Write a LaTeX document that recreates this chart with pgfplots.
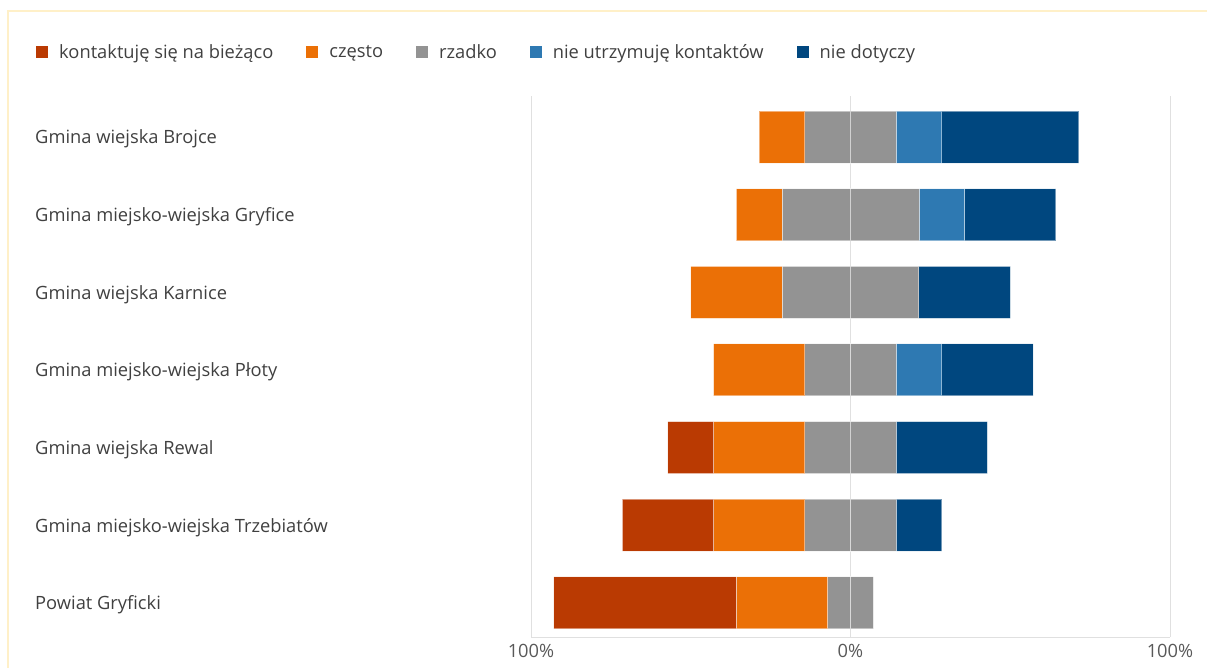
\documentclass[border=0pt]{standalone}
\usepackage{pgfplots}
\pgfplotsset{compat=1.18}
\usepackage{pgfplotstable}
\usepackage{fontspec}
\setmainfont{Open Sans}
\definecolor{ckont}{HTML}{BA3A02}
\definecolor{cczesto}{HTML}{EB7006}
\definecolor{crzadko}{HTML}{939393}
\definecolor{cnieutrz}{HTML}{2E79B2}
\definecolor{cniedot}{HTML}{00477F}
\definecolor{cgrid}{HTML}{E0E0E0}
\definecolor{ctext}{HTML}{404040}
\definecolor{ctick}{HTML}{595959}
\definecolor{cborder}{HTML}{FFF0C8}
\pgfplotstableread{
y offset kont czesto rzadkoL rzadkoR nieutrz niedot
0 -28.57 0     14.29 14.285 14.285 14.29 42.86
1 -35.71 0     14.29 21.43  21.43  14.29 28.57
2 -50.00 0     28.57 21.43  21.43  0     28.57
3 -42.86 0     28.57 14.285 14.285 14.29 28.57
4 -57.14 14.29 28.57 14.285 14.285 0     28.57
5 -71.43 28.57 28.57 14.285 14.285 0     14.29
6 -92.86 57.14 28.57 7.145  7.145  0     0
}\datatable
\begin{document}
\begin{tikzpicture}
\useasboundingbox (0pt,0pt) rectangle (1207pt,668pt);
\draw[color=cborder, line width=1.5pt] (8pt,-5pt) -- (8pt,657pt) -- (1215pt,657pt);
\begin{axis}[
  at={(531pt,31pt)}, anchor=south west,
  scale only axis, width=639pt, height=541pt,
  xbar stacked, stack negative=on previous, bar width=52pt,
  xmin=-100, xmax=100, ymin=-0.53, ymax=6.44, y dir=reverse,
  ytick={0,1,2,3,4,5,6},
  yticklabels={Gmina wiejska Brojce, Gmina miejsko-wiejska Gryfice, Gmina wiejska Karnice, Gmina miejsko-wiejska Płoty, Gmina wiejska Rewal, Gmina miejsko-wiejska Trzebiatów, Powiat Gryficki},
  yticklabel style={anchor=west, xshift=-496pt, yshift=-2pt, inner sep=0pt, font=\fontsize{18.3}{21}\selectfont, text=ctext},
  xtick={-100,0,100}, xticklabels={100\%,0\%,100\%},
  xticklabel style={font=\fontsize{18.3}{21}\selectfont, text=ctick, yshift=-4pt},
  major tick length=0pt,
  xmajorgrids, grid style={color=cgrid, line width=1pt},
  axis line style={draw=none},
  legend columns=5,
  legend cell align=left,
  legend style={at={(-0.7746,1.0813)}, anchor=west, draw=none, fill=none, inner sep=0pt,
    font=\fontsize{18.3}{21}\selectfont, text=ctext,
    /tikz/every odd column/.append style={column sep=9pt},
    /tikz/every even column/.append style={column sep=31pt}},
  legend image code/.code={\fill[#1,draw=none] (0pt,-6pt) rectangle (12pt,6pt);},
  every axis plot/.append style={draw=white, draw opacity=0.45, line width=1pt},
]
\addplot[draw=none, fill=none, forget plot] table[x=offset, y=y] {\datatable};
\addplot[fill=ckont] table[x=kont, y=y] {\datatable};
\addplot[fill=cczesto] table[x=czesto, y=y] {\datatable};
\addplot[fill=crzadko] table[x=rzadkoL, y=y] {\datatable};
\addplot[fill=crzadko, forget plot] table[x=rzadkoR, y=y] {\datatable};
\addplot[fill=cnieutrz] table[x=nieutrz, y=y] {\datatable};
\addplot[fill=cniedot] table[x=niedot, y=y] {\datatable};
\legend{kontaktuję się na bieżąco, często, rzadko, nie utrzymuję kontaktów, nie dotyczy}
\draw[cgrid, line width=1pt] (axis cs:-100,6.44) -- (axis cs:100,6.44);
\end{axis}
\end{tikzpicture}
\end{document}
